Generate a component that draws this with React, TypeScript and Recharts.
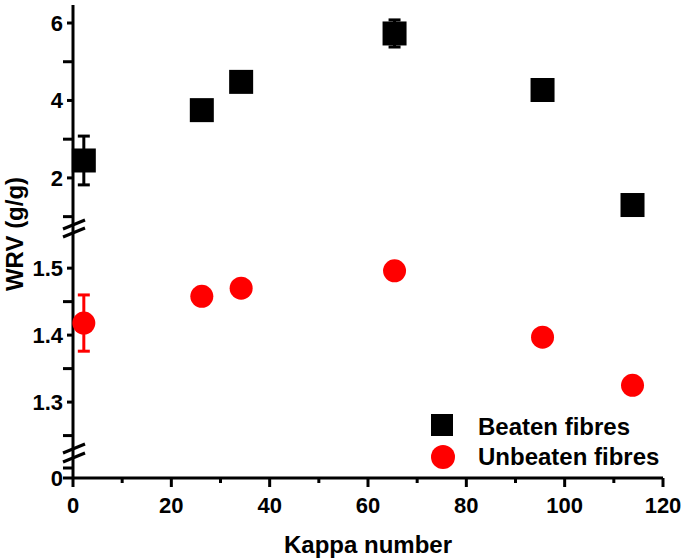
import React from 'react'
import { ScatterChart, Scatter, XAxis, YAxis, ErrorBar, Legend, Label } from 'recharts'

const kappa = [2.2, 26.2, 34.2, 65.4, 95.5, 113.8]
const beatenWrv = [2.45, 3.75, 4.48, 5.73, 4.27, 1.3]
const beatenErr = [0.63, 0, 0, 0.35, 0, 0]
const unbeatenWrv = [1.418, 1.458, 1.47, 1.496, 1.397, 1.325]
const unbeatenErr = [0.042, 0, 0, 0, 0, 0]

const xTicks = [0, 10, 20, 30, 40, 50, 60, 70, 80, 90, 100, 110, 120]
const xLabels = [0, 20, 40, 60, 80, 100, 120]
const topTicks = [1, 2, 3, 4, 5, 6]
const topLabels = [2, 4, 6]
const midTicks = [1.25, 1.3, 1.35, 1.4, 1.45, 1.5]
const midLabels = [1.3, 1.4, 1.5]
const lowTicks = [0, 0.1]
const lowLabels = [0]

const series = [
  { name: 'Beaten fibres', color: '#000000' },
  { name: 'Unbeaten fibres', color: '#ff0000' },
]

const beatenData = kappa.map((k, i) => ({ kappa: k, wrv: beatenWrv[i], err: beatenErr[i] }))
const unbeatenData = kappa.map((k, i) => ({ kappa: k, wrv: unbeatenWrv[i], err: unbeatenErr[i] }))

const W = 685
const H = 560
const FONT = "'Liberation Sans', Arial, sans-serif"
const AXIS = { stroke: '#000', strokeWidth: 3 }

function XTick(props: any) {
  const { x, y, payload } = props
  const major = xLabels.includes(payload.value)
  return (
    <g>
      <line x1={x} x2={x} y1={y} y2={y + (major ? 9 : 5)} stroke="#000" strokeWidth={3} />
      {major && (
        <text x={x} y={y + 35} textAnchor="middle" fontSize={22} fontWeight={700} fontFamily={FONT} fill="#000">
          {payload.value}
        </text>
      )}
    </g>
  )
}

function makeYTick(labels: number[], majorLen: number) {
  return (props: any) => {
    const { x, y, payload } = props
    const major = labels.includes(payload.value)
    return (
      <g>
        <line x1={x - (major ? majorLen : 10)} x2={x} y1={y} y2={y} stroke="#000" strokeWidth={3} />
        {major && (
          <text x={x - 10} y={y + 8} textAnchor="end" fontSize={22} fontWeight={700} fontFamily={FONT} fill="#000">
            {payload.value}
          </text>
        )}
      </g>
    )
  }
}

const SquareDot = (p: any) => <rect x={p.cx - 12} y={p.cy - 12} width={24} height={24} fill={series[0].color} />
const RoundDot = (p: any) => <circle cx={p.cx} cy={p.cy} r={11.5} fill={series[1].color} />

function LegendBox() {
  return (
    <svg width={260} height={70} style={{ display: 'block' }}>
      <rect x={6} y={9} width={22} height={22} fill={series[0].color} />
      <text x={53} y={30} fontSize={24} fontWeight={700} fontFamily={FONT} fill="#000">{series[0].name}</text>
      <circle cx={18} cy={52} r={12} fill={series[1].color} />
      <text x={53} y={60} fontSize={24} fontWeight={700} fontFamily={FONT} fill="#000">{series[1].name}</text>
    </svg>
  )
}

const layer: React.CSSProperties = { position: 'absolute', left: 0, top: 0 }

export default function App() {
  return (
    <div style={{ position: 'absolute', left: 0, top: 0, width: W, height: H, background: '#fff', fontFamily: FONT }}>
      {/* upper segment: beaten fibres */}
      <div style={layer}>
        <ScatterChart width={W} height={H} margin={{ top: 5, right: 22, bottom: H - 236, left: 13 }}>
          <XAxis type="number" dataKey="kappa" domain={[0, 120]} hide />
          <YAxis
            type="number"
            dataKey="wrv"
            domain={[0.5, 6.465]}
            ticks={topTicks}
            width={60}
            axisLine={AXIS}
            tickLine={false}
            tickSize={0}
            tickMargin={0}
            tick={makeYTick(topLabels, 6)}
            interval={0}
          >
            <Label
              content={() => (
                <text
                  x={23}
                  y={234}
                  transform="rotate(-90 23 234)"
                  textAnchor="middle"
                  fontSize={24}
                  fontWeight={700}
                  fontFamily={FONT}
                  fill="#000"
                >
                  WRV (g/g)
                </text>
              )}
            />
          </YAxis>
          <Scatter name={series[0].name} data={beatenData} fill={series[0].color} shape={SquareDot} isAnimationActive={false}>
            <ErrorBar dataKey="err" direction="y" width={6} strokeWidth={3} stroke={series[0].color} />
          </Scatter>
          <Legend
            content={() => <LegendBox />}
            layout="vertical"
            align="center"
            verticalAlign="middle"
            wrapperStyle={{ left: 425, top: 405, width: 260, height: 70 }}
          />
        </ScatterChart>
      </div>

      {/* middle segment: unbeaten fibres */}
      <div style={layer}>
        <ScatterChart width={W} height={H} margin={{ top: 236, right: 22, bottom: H - 455, left: 13 }}>
          <XAxis type="number" dataKey="kappa" domain={[0, 120]} hide />
          <YAxis
            type="number"
            dataKey="wrv"
            domain={[1.221, 1.548]}
            ticks={midTicks}
            width={60}
            axisLine={AXIS}
            tickLine={false}
            tickSize={0}
            tickMargin={0}
            tick={makeYTick(midLabels, 6)}
            interval={0}
          />
          <Scatter name={series[1].name} data={unbeatenData} fill={series[1].color} shape={RoundDot} isAnimationActive={false}>
            <ErrorBar dataKey="err" direction="y" width={6} strokeWidth={3} stroke={series[1].color} />
          </Scatter>
        </ScatterChart>
      </div>

      {/* lower segment with x axis */}
      <div style={layer}>
        <ScatterChart width={W} height={H} margin={{ top: 455, right: 22, bottom: 0, left: 13 }}>
          <XAxis
            type="number"
            dataKey="kappa"
            domain={[0, 120]}
            allowDataOverflow
            ticks={xTicks}
            interval={0}
            height={82}
            axisLine={AXIS}
            tickLine={false}
            tickSize={0}
            tickMargin={0}
            tick={XTick}
          >
            <Label
              content={() => (
                <text x={368} y={553} textAnchor="middle" fontSize={24} fontWeight={700} fontFamily={FONT} fill="#000">
                  Kappa number
                </text>
              )}
            />
          </XAxis>
          <YAxis
            type="number"
            dataKey="wrv"
            domain={[0, 0.23]}
            allowDataOverflow
            ticks={lowTicks}
            width={60}
            axisLine={AXIS}
            tickLine={false}
            tickSize={0}
            tickMargin={0}
            tick={makeYTick(lowLabels, 10)}
            interval={0}
          />
        </ScatterChart>
      </div>

      {/* axis break marks */}
      <svg width={W} height={H} style={{ ...layer, pointerEvents: 'none' }}>
        <g stroke="#000" strokeWidth={3}>
          <line x1={63} y1={229} x2={85} y2={220} />
          <line x1={63} y1={237} x2={85} y2={228} />
          <line x1={63} y1={453} x2={85} y2={444} />
          <line x1={63} y1={462} x2={85} y2={453} />
        </g>
      </svg>
    </div>
  )
}
